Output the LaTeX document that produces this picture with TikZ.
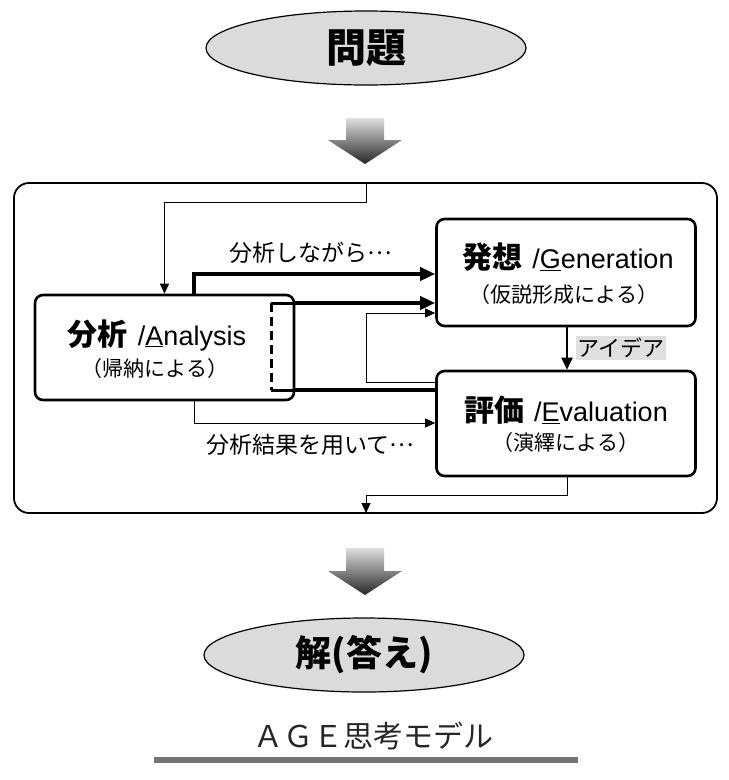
\documentclass[tikz,border=0pt]{standalone}
\usepackage{fontspec}
\setmainfont{Liberation Sans}
\newfontfamily\jp{Noto Sans CJK JP}
\usetikzlibrary{shapes.geometric,arrows.meta}
\newcommand\fsz[1]{\fontsize{#1}{#1}\selectfont}
\newcommand\mdots{\raisebox{0.3em}{…}}
\begin{document}
\begin{tikzpicture}[x=1pt,y=-1pt,
  box/.style={draw, line width=2.6pt, rounded corners=8pt, minimum width=259pt, minimum height=105pt, inner sep=0pt},
  oval/.style={ellipse, draw, line width=1.2pt, fill=gray!28, minimum width=320pt, minimum height=74pt, inner sep=0pt},
  txt/.style={inner sep=0pt, anchor=center},
  thinarr/.style={line width=0.9pt, -{Triangle[length=10pt,width=9pt]}},
  heavyarr/.style={line width=3.6pt, -{Triangle[length=15pt,width=13pt]}},
  heavyline/.style={line width=3.6pt},
  bigarrow/.style={top color=gray!25, bottom color=black!85, draw=none}
]
\useasboundingbox (0,0) rectangle (729,780);

% top oval
\node[oval] (prob) at (366,48) {\jp\bfseries\fsz{40}問題};
% down arrow 1
\shade[bigarrow] (346,118) -- (384,118) -- (384,140) -- (402,140) -- (365,164) -- (328,140) -- (346,140) -- cycle;

% frame
\node[draw, line width=1.8pt, rounded corners=15pt, minimum width=703pt, minimum height=330pt, inner sep=0pt] (frame) at (365.5,348) {};

% boxes
\node[box] (ana) at (164.5,347.5) {};
\node[box, minimum height=107pt] (gen) at (566,272.5) {};
\node[box] (eva) at (566,423.5) {};

% box texts
\node[txt] (anat1) at (157,335) {{\jp\bfseries\fsz{30}分析}\hspace{10pt}{\fsz{27}/\underline{A}nalysis}};
\node[txt] (anat2) at (155,369) {\jp\fsz{21}（帰納による）};
\node[txt] (gent1) at (568,257) {{\jp\bfseries\fsz{30}発想}\hspace{10pt}{\fsz{27}/\underline{G}eneration}};
\node[txt] (gent2) at (564,295) {\jp\fsz{21}（仮説形成による）};
\node[txt] (evat1) at (566,410) {{\jp\bfseries\fsz{30}評価}\hspace{10pt}{\fsz{27}/\underline{E}valuation}};
\node[txt] (evat2) at (566,443) {\jp\fsz{21}（演繹による）};

% coordinates
\coordinate (ftop) at (366,183);
\coordinate (k1) at (366,202);
\coordinate (bt) at (271,303);
\coordinate (bb) at (271,390);
\coordinate (lp) at (366,313);
\coordinate (k2) at (366,495);
\coordinate (fbot) at (366,513);

% entry from top of frame to analysis
\draw[thinarr] (ftop) -- (k1) -| (ana.north);

% bracket inside analysis box
\draw[line width=3pt, dash pattern=on 9pt off 5pt] (bt) -- (bb);
\draw[line width=3pt] (ana.east |- bt) -- (bt);
\draw[line width=3pt] (ana.east |- bb) -- (bb);

% analysis -> generation (thick, via top)
\draw[heavyarr] (194,295) |- (gen.west |- 0,274);
\node[txt] (lab1) at (311,253) {\jp\fsz{23}分析しながら\mdots};

% bracket top -> generation
\draw[heavyarr] (ana.east |- bt) -- (gen.west |- bt);
% bracket bottom -> evaluation
\draw[heavyline] (ana.east |- bb) -- (eva.west |- bb);

% feedback loop evaluation -> generation
\draw[thinarr] (eva.west |- 0,382) -| (lp) -- (gen.west |- lp);

% analysis bottom -> evaluation
\draw[thinarr] (194,400) |- (eva.west |- 0,423);
\node[txt] (lab2) at (310,445) {\jp\fsz{23}分析結果を用いて\mdots};

% generation -> evaluation
\draw[line width=2pt, -{Triangle[length=12pt,width=11pt]}] (gen.south -| 567,0) -- (eva.north -| 567,0);
\node[txt, fill=gray!25, inner sep=2pt] (lab3) at (621,348) {\jp\fsz{22}アイデア};

% evaluation -> exit
\draw[thinarr] (eva.south -| 567,0) |- (k2) -- (fbot);

% down arrow 2
\shade[bigarrow] (346,548) -- (384,548) -- (384,571) -- (402,571) -- (365,595) -- (328,571) -- (346,571) -- cycle;

% bottom oval
\node[oval] (ans) at (364,655) {\jp\bfseries\fsz{36}解(答え)};

% caption
\node[txt, text=black!85] (cap) at (373,736) {\jp\fsz{30}ＡＧＥ思考モデル};
\fill[black!55] (154,757) rectangle (578,763);
\end{tikzpicture}
\end{document}
